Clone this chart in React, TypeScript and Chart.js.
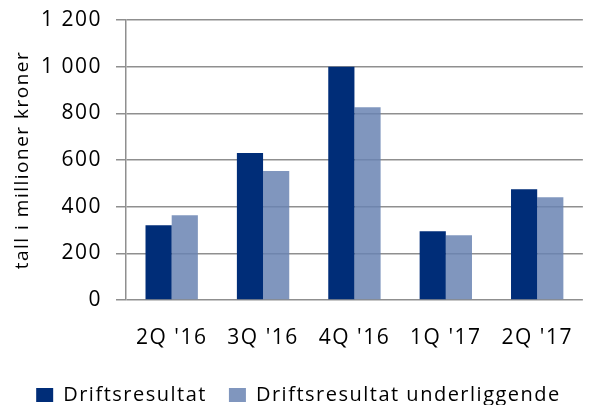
import React, { useEffect, useRef } from "react";
import { Chart, registerables } from "chart.js";

Chart.register(...registerables);

const categories = ["2Q '16", "3Q '16", "4Q '16", "1Q '17", "2Q '17"];
const driftsresultat = [320, 630, 1000, 295, 475];
const underliggende = [363, 553, 826, 278, 440];
const seriesNames = ["Driftsresultat", "Driftsresultat underliggende"];
const yTitle = "tall i millioner kroner";

const fmt = (v: number) => {
  const s = String(Math.round(v));
  return s.replace(/\B(?=(\d{3})+(?!\d))/g, " ");
};

const spacingPlugin = {
  id: "letterSpacing",
  beforeUpdate(chart: any) {
    chart.ctx.letterSpacing = "1.5px";
  },
  beforeDraw(chart: any) {
    chart.ctx.letterSpacing = "1.5px";
  },
};

export default function App() {
  const ref = useRef<HTMLCanvasElement | null>(null);
  useEffect(() => {
    if (!ref.current) return;
    const font = "'Open Sans', sans-serif";
    const chart = new Chart(ref.current, {
      type: "bar",
      plugins: [spacingPlugin],
      data: {
        labels: categories,
        datasets: [
          {
            label: seriesNames[0],
            data: driftsresultat,
            backgroundColor: "#002D78",
            borderWidth: 0,
          },
          {
            label: seriesNames[1],
            data: underliggende,
            backgroundColor: "rgba(106,132,179,0.85)",
            borderWidth: 0,
          },
        ],
      },
      options: {
        responsive: false,
        animation: false,
        layout: { padding: { top: 20, right: 1, left: 0, bottom: -10 } },
        datasets: { bar: { categoryPercentage: 0.573, barPercentage: 1 } },
        plugins: {
          tooltip: { enabled: false },
          legend: {
            position: "bottom",
            labels: {
              font: { family: font, size: 20 },
              color: "#000",
              boxWidth: 17,
              boxHeight: 14,
              padding: 22,
            },
          },
        },
        scales: {
          x: {
            grid: { display: false, drawTicks: false },
            border: { display: false },
            ticks: {
              font: { family: font, size: 21 },
              color: "#000",
              padding: 25,
            },
            afterFit: (s: any) => {
              s.height = 63;
            },
          },
          y: {
            min: 0,
            max: 1200,
            ticks: {
              stepSize: 200,
              font: { family: font, size: 21 },
              color: "#000",
              padding: 14,
              callback: (v: any) => fmt(Number(v)),
            },
            grid: {
              color: "#8f8f8f",
              lineWidth: 1.5,
              tickLength: 10,
              drawTicks: true,
            },
            border: { color: "#8f8f8f", width: 1.5 },
            title: {
              display: true,
              text: yTitle,
              font: { family: font, size: 19 },
              color: "#000",
              padding: { top: 11, bottom: 0 },
            },
            afterFit: (s: any) => {
              s.width = 126;
              s.paddingTop = 5;
              s.paddingBottom = 5;
            },
          },
        },
      },
    });
    return () => chart.destroy();
  }, []);
  return (
    <div
      style={{
        position: "fixed",
        left: 0,
        top: 0,
        width: 593,
        height: 405,
        overflow: "hidden",
        background: "#fff",
      }}
    >
      <canvas ref={ref} width={598} height={405} style={{ width: 598, height: 405, display: "block" }} />
    </div>
  );
}
